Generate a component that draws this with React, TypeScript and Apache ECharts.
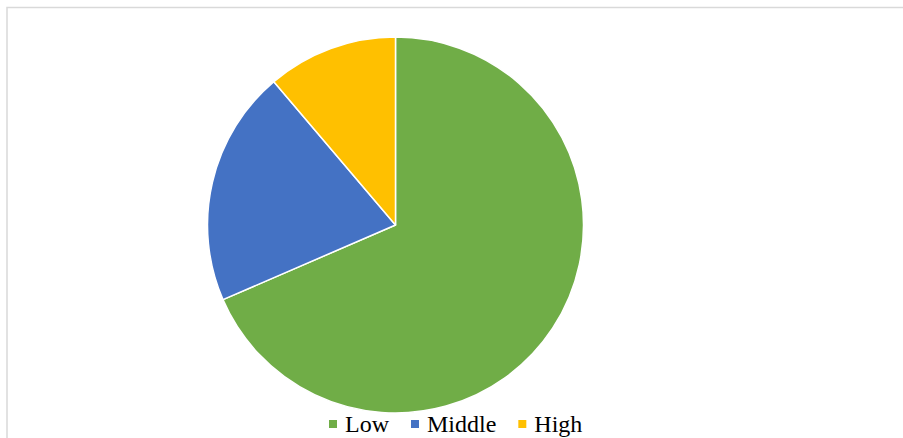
import React, { useEffect, useRef } from "react";
import * as echarts from "echarts";

const categories = ["Low", "Middle", "High"];
const values = [68.5, 20.3, 11.2];
const colors = ["#70AD47", "#4472C4", "#FFC000"];

export default function App() {
  const ref = useRef<HTMLDivElement>(null);
  useEffect(() => {
    if (!ref.current) return;
    const chart = echarts.init(ref.current, null, { renderer: "svg" });
    chart.setOption({
      animation: false,
      backgroundColor: "#ffffff",
      color: colors,
      graphic: [
        {
          type: "rect",
          shape: { x: 7, y: 7.5, width: 1200, height: 1200 },
          style: { fill: "none", stroke: "#d9d9d9", lineWidth: 1.5 },
          silent: true,
        },
      ],
      legend: {
        left: 322,
        top: 407,
        itemWidth: 10,
        itemHeight: 10,
        itemGap: 20,
        icon: "rect",
        data: categories,
        textStyle: {
          fontFamily: "Liberation Serif",
          fontSize: 24,
          lineHeight: 24,
          color: "#000000",
          padding: [0, 0, 0, 2],
        },
      },
      series: [
        {
          type: "pie",
          center: [395.5, 225],
          radius: 188,
          startAngle: 90,
          clockwise: true,
          label: { show: false },
          labelLine: { show: false },
          emphasis: { disabled: true },
          itemStyle: { borderColor: "#ffffff", borderWidth: 1.5 },
          data: categories.map((name, i) => ({ name, value: values[i] })),
        },
      ],
    });
    return () => chart.dispose();
  }, []);
  return (
    <div
      ref={ref}
      style={{ position: "fixed", left: 0, top: 0, width: 903, height: 438 }}
    />
  );
}
